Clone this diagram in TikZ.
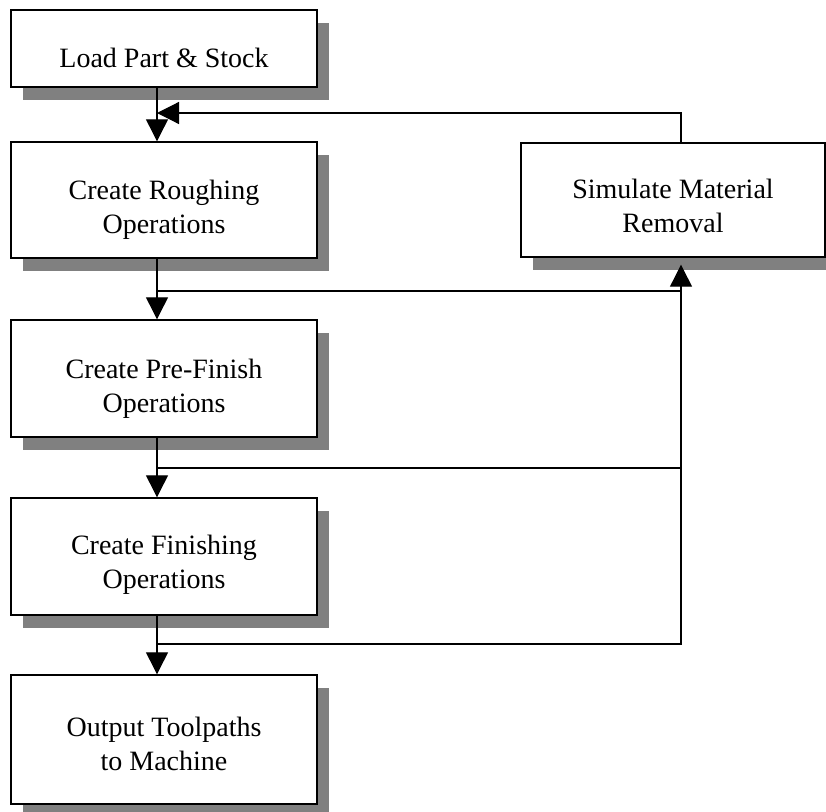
\documentclass[tikz,border=0pt]{standalone}
\usepackage{fontspec}
\setmainfont{Liberation Serif}
\usetikzlibrary{arrows.meta,shadows}
\newcommand{\stageup}[1]{\rule{0pt}{#1}}
\tikzset{
  stage/.style={draw,line width=1.4pt,fill=white,align=center,
                minimum width=306pt,inner sep=0pt,
                font=\fontsize{28}{34}\selectfont,
                drop shadow={shadow xshift=12pt,shadow yshift=-13pt,
                             fill=black!50,opacity=1}},
  ln/.style={line width=1.2pt},
  fl/.style={ln,-{Triangle[length=22pt,width=22pt]}},
}
\begin{document}
\begin{tikzpicture}[x=1pt, y=-1pt]
  \useasboundingbox (0,0) rectangle (826,811);
  \node[stage,minimum height=77pt] (load) at (164,48.5) {\stageup{38pt}Load Part \& Stock};
  \node[stage,minimum height=116pt] (rough) at (164,200) {\stageup{38pt}Create Roughing\\Operations};
  \node[stage,minimum height=117pt] (pre) at (164,378.5) {\stageup{40pt}Create Pre-Finish\\Operations};
  \node[stage,minimum height=117pt] (fin) at (164,556.5) {\stageup{36pt}Create Finishing\\Operations};
  \node[stage,minimum height=129pt] (out) at (164,739.5) {\stageup{28pt}Output Toolpaths\\to Machine};
  \node[stage,minimum height=114pt,minimum width=304pt] (sim) at (673,200) {\stageup{32pt}Simulate Material\\Removal};
  % junctions on the main line
  \coordinate (j0) at (157,113);
  \coordinate (j1) at (157,291);
  \coordinate (j2) at (157,468);
  \coordinate (j3) at (157,644);
  \coordinate (up) at ([xshift=8pt,yshift=-7pt]sim.south);
  \foreach \a/\b in {load/rough,rough/pre,pre/fin,fin/out}
    \draw[fl] ([xshift=-7pt]\a.south) -- ([xshift=-7pt]\b.north);
  % feedback loop
  \draw[ln] (j1) -- (j1 -| up);
  \draw[ln] (j2) -- (j2 -| up);
  \draw[fl] (j3) -| (up);
  \draw[fl] ([xshift=8pt]sim.north) |- (j0);
\end{tikzpicture}
\end{document}
